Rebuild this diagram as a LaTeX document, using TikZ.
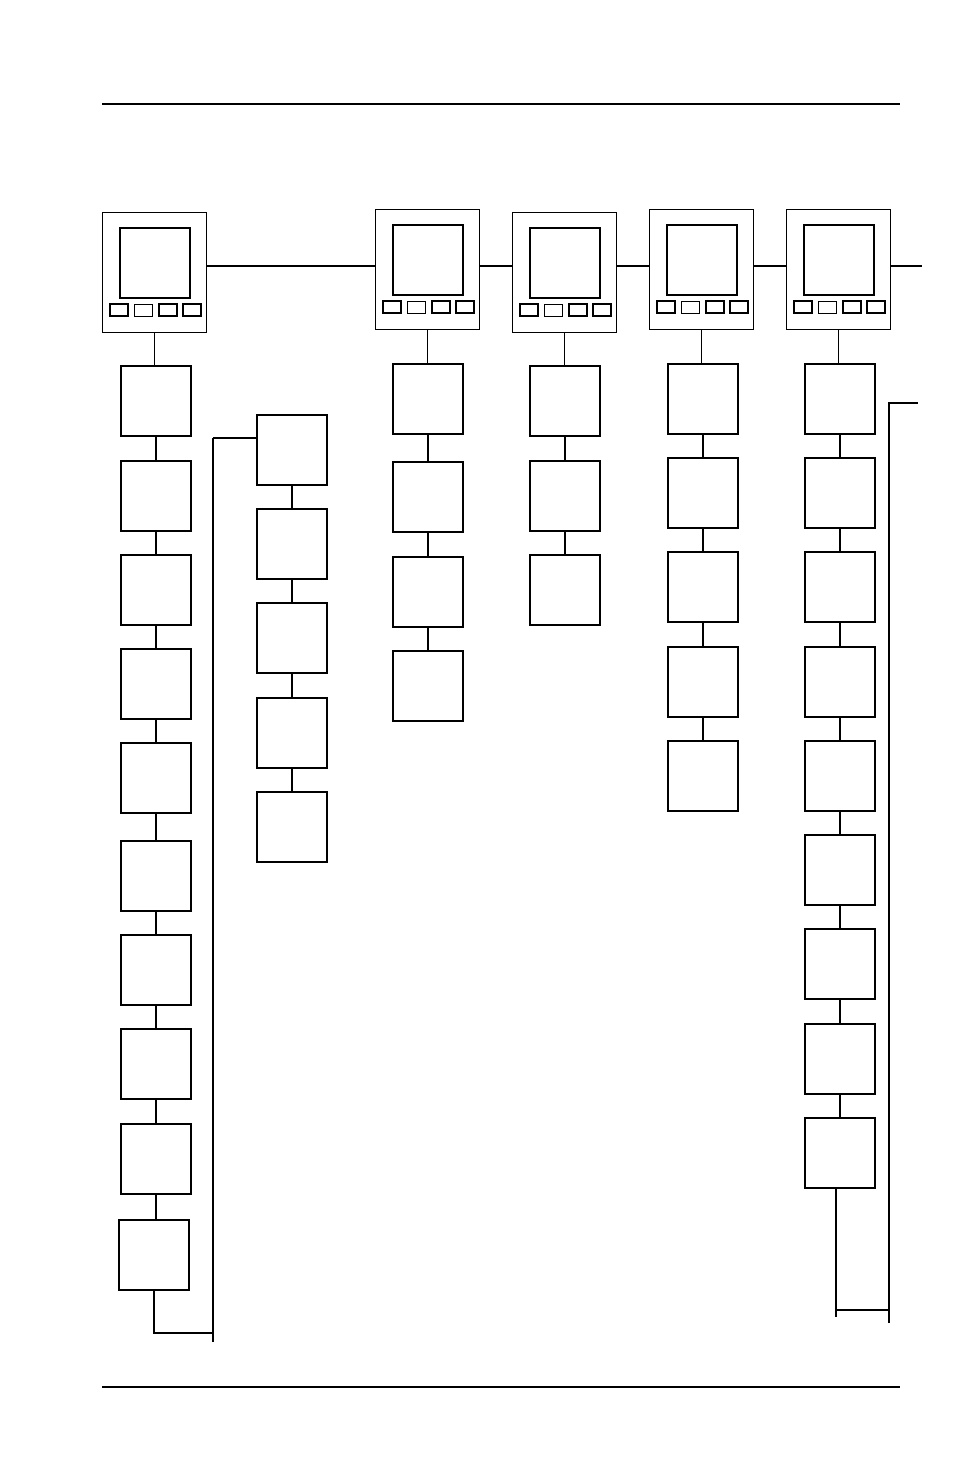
\documentclass[tikz,border=0pt]{standalone}
\begin{document}
\begin{tikzpicture}[x=1pt,y=-1pt,line width=1.6pt,
  bx/.style={draw,minimum width=70pt,minimum height=70pt,anchor=north west,inner sep=0pt},
  ln/.style={line width=1.4pt}]
\useasboundingbox (0,0) rectangle (954,1475);
\draw[ln] (102,104) -- (900,104);
\draw[ln] (102,1387) -- (900,1387);
\newcommand\dev[3]{%
  \node[draw,line width=1.3pt,minimum width=104pt,minimum height=120pt,anchor=north west,inner sep=0pt] (#3) at (#1,#2) {};
  \draw (#1+18,#2+16) rectangle (#1+88,#2+86);
  \draw[line width=1.3pt] (#1+8,#2+92) rectangle (#1+26,#2+104);
  \draw[line width=0.8pt] (#1+32,#2+92) rectangle (#1+50,#2+104);
  \draw[line width=1.3pt] (#1+57,#2+92) rectangle (#1+75,#2+104);
  \draw[line width=1.3pt] (#1+81,#2+92) rectangle (#1+99,#2+104);}
\dev{102}{212}{d1}
\dev{375}{209}{d2}
\dev{512}{212}{d3}
\dev{649}{209}{d4}
\dev{786}{209}{d5}
\coordinate (r5) at (922,266);
\draw[ln] (d1.east |- r5) -- (d2.west |- r5);
\draw[ln] (d2.east |- r5) -- (d3.west |- r5);
\draw[ln] (d3.east |- r5) -- (d4.west |- r5);
\draw[ln] (d4.east |- r5) -- (d5.west |- r5);
\draw[ln] (d5.east |- r5) -- (r5);
% column 1
\foreach \y [count=\i] in {365,460,554,648,742,840,934,1028,1123}
  \node[bx] (a\i) at (120,\y) {};
\node[bx] (a10) at (118,1219) {};
\draw[ln] (d1.south) -- (d1.south |- a1.north);
\foreach \i [evaluate=\i as \j using int(\i+1)] in {1,...,9}
  \draw[ln] (a\i.south) -- (a\i.south |- a\j.north);
\coordinate (c2) at (213,1333);
\coordinate (c3) at (213,1342);
\coordinate (c4) at (213,438);
\draw[ln] (a10.south) -- (a10.south |- c2) -- (c2);
\draw[ln] (c3) -- (c4);
% column 2
\foreach \y [count=\i] in {414,508,602,697,791}
  \node[bx] (b\i) at (256,\y) {};
\draw[ln] (c4) -- (b1.west |- c4);
\foreach \i [evaluate=\i as \j using int(\i+1)] in {1,...,4}
  \draw[ln] (b\i.south) -- (b\i.south |- b\j.north);
% column 3
\foreach \y [count=\i] in {363,461,556,650}
  \node[bx] (e\i) at (392,\y) {};
\draw[ln] (d2.south) -- (d2.south |- e1.north);
\foreach \i [evaluate=\i as \j using int(\i+1)] in {1,...,3}
  \draw[ln] (e\i.south) -- (e\i.south |- e\j.north);
% column 4
\foreach \y [count=\i] in {365,460,554}
  \node[bx] (f\i) at (529,\y) {};
\draw[ln] (d3.south) -- (d3.south |- f1.north);
\foreach \i [evaluate=\i as \j using int(\i+1)] in {1,...,2}
  \draw[ln] (f\i.south) -- (f\i.south |- f\j.north);
% column 5
\foreach \y [count=\i] in {363,457,551,646,740}
  \node[bx] (g\i) at (667,\y) {};
\draw[ln] (d4.south) -- (d4.south |- g1.north);
\foreach \i [evaluate=\i as \j using int(\i+1)] in {1,...,4}
  \draw[ln] (g\i.south) -- (g\i.south |- g\j.north);
% column 6
\foreach \y [count=\i] in {363,457,551,646,740,834,928,1023,1117}
  \node[bx] (h\i) at (804,\y) {};
\draw[ln] (d5.south) -- (d5.south |- h1.north);
\foreach \i [evaluate=\i as \j using int(\i+1)] in {1,...,8}
  \draw[ln] (h\i.south) -- (h\i.south |- h\j.north);
\coordinate (k2) at (836,1310);
\coordinate (k3) at (889,1310);
\coordinate (k4) at (889,1323);
\coordinate (k5) at (889,403);
\coordinate (k6) at (918,403);
\draw[ln] (h9.south -| k2) -- (k2 |- 0,1317);
\draw[ln] (k2) -- (k3);
\draw[ln] (k4) -- (k5) -- (k6);
\end{tikzpicture}
\end{document}
